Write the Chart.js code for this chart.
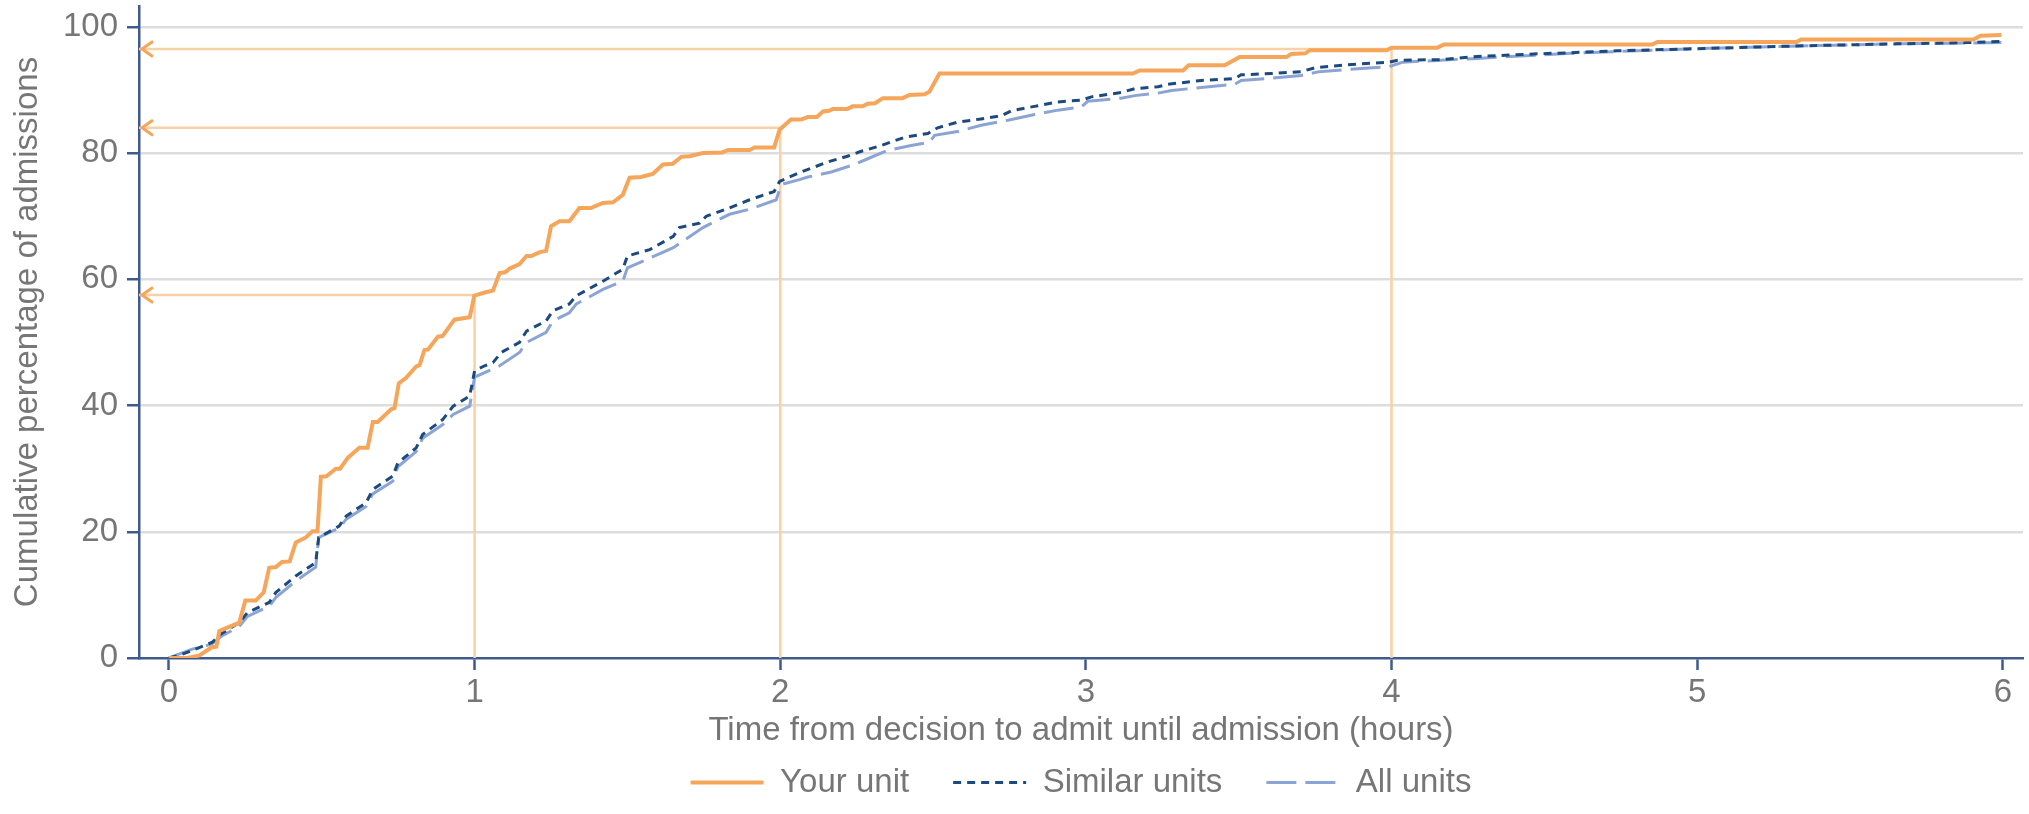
<!DOCTYPE html>
<html>
<head>
<meta charset="utf-8">
<script src="https://cdn.jsdelivr.net/npm/chart.js@4.4.1/dist/chart.umd.min.js"></script>
<style>
html,body{margin:0;padding:0;background:#ffffff;overflow:hidden}
#wrap{width:2029px;height:814px;position:relative}
</style>
</head>
<body>
<div id="wrap"><canvas id="c" width="2029" height="814"></canvas></div>
<script>
// ---------------- data ----------------
const seriesNames = ['Your unit', 'Similar units', 'All units'];

const yourHours = [0,0.06,0.1,0.14,0.155,0.165,0.23,0.25,0.284,0.31,0.328,0.35,0.37,0.395,0.415,0.448,0.47,0.486,0.497,0.515,0.546,0.56,0.585,0.623,0.65,0.667,0.683,0.727,0.738,0.752,0.776,0.809,0.82,0.836,0.848,0.88,0.895,0.934,0.984,0.999,1.033,1.06,1.082,1.1,1.115,1.147,1.17,1.186,1.213,1.234,1.25,1.278,1.31,1.343,1.38,1.42,1.453,1.485,1.507,1.545,1.583,1.616,1.648,1.676,1.703,1.747,1.81,1.83,1.9,1.916,1.98,1.998,2.035,2.068,2.09,2.12,2.14,2.16,2.172,2.22,2.237,2.27,2.286,2.31,2.336,2.4,2.423,2.472,2.488,2.521,3.154,3.176,3.318,3.336,3.454,3.503,3.656,3.672,3.718,3.733,3.984,4.0,4.15,4.172,4.853,4.87,5.325,5.34,5.904,5.927,5.995];
const yourPct   = [0,0,0.4,1.7,1.8,4.3,5.6,9.1,9.1,10.4,14.3,14.4,15.2,15.3,18.3,19.1,20.1,20.1,28.7,28.8,30.0,30.0,31.7,33.3,33.3,37.4,37.4,39.4,39.6,43.5,44.4,46.2,46.4,48.8,48.9,50.9,51.0,53.6,54.0,57.4,57.9,58.2,61.0,61.1,61.7,62.4,63.7,63.7,64.3,64.5,68.4,69.2,69.2,71.3,71.3,72.1,72.2,73.4,76.1,76.2,76.7,78.2,78.3,79.4,79.5,80.0,80.1,80.5,80.5,80.9,80.9,83.7,85.3,85.3,85.7,85.7,86.6,86.7,87.0,87.0,87.4,87.4,87.8,87.9,88.7,88.7,89.2,89.3,89.7,92.6,92.6,93.1,93.1,93.9,93.9,95.2,95.2,95.7,95.8,96.3,96.3,96.7,96.7,97.2,97.2,97.6,97.6,98.0,98.0,98.6,98.7];

const similarHours = [0,0.033,0.087,0.142,0.17,0.23,0.257,0.328,0.35,0.415,0.48,0.49,0.557,0.58,0.645,0.667,0.732,0.749,0.809,0.83,0.896,0.93,0.984,1.0,1.033,1.06,1.087,1.147,1.17,1.234,1.256,1.31,1.333,1.42,1.485,1.5,1.573,1.65,1.67,1.736,1.758,1.834,1.9,1.98,1.998,2.068,2.156,2.22,2.26,2.33,2.407,2.483,2.515,2.58,2.657,2.723,2.756,2.832,2.908,2.985,3.018,3.115,3.16,3.236,3.268,3.377,3.487,3.508,3.607,3.705,3.748,3.855,3.992,4.02,4.16,4.28,4.464,4.586,4.738,4.967,5.195,5.348,5.653,5.881,5.995];
const similarPct   = [0,0.4,1.4,2.5,3.8,5.6,7.2,8.8,10.4,13.0,15.1,19.1,20.9,22.5,24.6,26.7,28.8,30.9,33.3,35.4,37.8,39.9,41.5,45.5,46.3,46.8,48.4,50.0,51.8,53.4,55.0,56.1,57.4,59.7,61.6,63.7,64.7,66.8,68.2,68.9,70.0,71.3,72.6,73.9,75.5,77.0,78.6,79.5,80.2,81.2,82.5,83.1,84.0,84.9,85.4,85.9,86.7,87.4,88.1,88.4,88.9,89.6,90.2,90.5,90.9,91.5,91.8,92.4,92.6,92.9,93.5,94.0,94.4,94.7,94.8,95.3,95.7,95.9,96.2,96.5,96.8,97.0,97.3,97.5,97.7];

const allHours = [0,0.033,0.076,0.14,0.17,0.23,0.257,0.328,0.35,0.415,0.48,0.49,0.557,0.58,0.645,0.667,0.732,0.749,0.809,0.83,0.896,0.93,0.984,1.0,1.082,1.147,1.17,1.234,1.256,1.31,1.333,1.42,1.485,1.5,1.65,1.747,1.834,1.9,1.987,2.003,2.063,2.09,2.167,2.237,2.286,2.35,2.428,2.488,2.505,2.58,2.657,2.745,2.832,2.908,2.985,3.006,3.115,3.16,3.236,3.28,3.377,3.487,3.508,3.64,3.705,3.763,3.9,3.992,4.037,4.28,4.586,4.967,5.272,5.653,5.995];
const allPct   = [0,0.6,1.4,2.2,3.4,5.0,6.6,8.2,9.6,12.2,14.4,19.1,20.6,22.0,24.0,26.0,28.0,30.3,32.7,34.8,37.0,38.6,39.9,44.5,46.3,48.4,50.0,51.6,53.4,54.7,56.1,58.4,59.7,61.8,65.0,68.2,70.3,71.1,72.6,75.0,75.8,76.2,77.0,78.1,79.1,80.4,81.2,81.7,82.8,83.4,84.4,85.2,86.1,86.8,87.3,88.2,88.7,89.1,89.5,89.9,90.4,90.9,91.5,92.0,92.3,92.9,93.4,93.7,94.4,95.0,95.8,96.5,96.9,97.3,97.5];

// reference markers: proportion admitted within 1, 2 and 4 hours for "Your unit"
const refHours = [1, 2, 4];
const refPct   = [57.5, 84, 96.5];

const xTickValues = [0, 1, 2, 3, 4, 5, 6];
const yTickValues = [0, 20, 40, 60, 80, 100];

const xTitle = 'Time from decision to admit until admission (hours)';
const yTitle = 'Cumulative percentage of admissions';

// ---------------- styling ----------------
const X_MIN = -0.098, X_MAX = 6.066, Y_MIN = 0, Y_MAX = 103.3;
const C_ORANGE = '#F5A65B', C_DARK = '#1C4A7E', C_LIGHT = '#8BA4D4';
const C_REF = '#FBD0A6', C_AXIS = '#3E5A8E', C_GRID = '#DDDDDD', C_TEXT = '#767676';
const FONT = "'Liberation Sans', Arial, sans-serif";
const FS = 33;

const pts = (xs, ys) => xs.map((x, i) => ({x: x, y: ys[i]}));

const mainSets = [
  {label: seriesNames[0], data: pts(yourHours, yourPct), borderColor: C_ORANGE, borderWidth: 4, borderDash: []},
  {label: seriesNames[1], data: pts(similarHours, similarPct), borderColor: C_DARK, borderWidth: 3, borderDash: [8, 6]},
  {label: seriesNames[2], data: pts(allHours, allPct), borderColor: C_LIGHT, borderWidth: 3, borderDash: [30, 9]}
].map((d, i) => Object.assign(d, {
  type: 'line', backgroundColor: d.borderColor, fill: false, pointRadius: 0, pointHoverRadius: 0,
  tension: 0, borderCapStyle: 'butt', borderJoinStyle: 'miter', order: i + 1
}));

const refSets = refHours.map((h, i) => ({
  type: 'line', label: 'ref' + i,
  data: [{x: h, y: Y_MIN}, {x: h, y: refPct[i]}, {x: X_MIN, y: refPct[i]}],
  borderColor: C_REF, backgroundColor: C_REF, borderWidth: 2.5, pointRadius: 0, pointHoverRadius: 0,
  fill: false, tension: 0, order: 20
}));

const arrowPlugin = {
  id: 'refArrows',
  afterDatasetsDraw(chart) {
    const xs = chart.scales.x, ys = chart.scales.y, ctx = chart.ctx;
    ctx.save();
    ctx.strokeStyle = C_ORANGE;
    ctx.lineWidth = 3;
    ctx.lineJoin = 'miter';
    ctx.lineCap = 'round';
    refPct.forEach(v => {
      const px = xs.getPixelForValue(X_MIN) + 3;
      const py = ys.getPixelForValue(v);
      ctx.beginPath();
      ctx.moveTo(px + 10, py - 7);
      ctx.lineTo(px, py);
      ctx.lineTo(px + 10, py + 7);
      ctx.stroke();
    });
    ctx.restore();
  }
};

new Chart(document.getElementById('c'), {
  type: 'line',
  data: {datasets: mainSets.concat(refSets)},
  options: {
    responsive: false,
    animation: false,
    devicePixelRatio: 1,
    events: [],
    layout: {padding: {left: 0, right: 6, top: 6, bottom: 5}},
    plugins: {
      tooltip: {enabled: false},
      legend: {
        display: true,
        position: 'bottom',
        fullSize: false,
        labels: {
          usePointStyle: true,
          pointStyle: 'line',
          pointStyleWidth: 73,
          padding: 44,
          color: C_TEXT,
          font: {family: FONT, size: FS},
          generateLabels: chart => {
            const items = Chart.defaults.plugins.legend.labels.generateLabels(chart);
            return items.filter(it => it.datasetIndex < 3).map(it => {
              const ds = chart.data.datasets[it.datasetIndex];
              it.lineDash = ds.borderDash;
              it.lineWidth = ds.borderWidth;
              it.strokeStyle = ds.borderColor;
              it.fillStyle = ds.borderColor;
              it.pointStyle = 'line';
              it.lineCap = 'butt';
              return it;
            });
          }
        }
      }
    },
    scales: {
      x: {
        type: 'linear',
        min: X_MIN, max: X_MAX,
        afterBuildTicks: s => { s.ticks = xTickValues.map(v => ({value: v})); },
        afterFit: s => { s.height = 64; s.paddingLeft = 0; s.paddingRight = 0; },
        ticks: {color: C_TEXT, font: {family: FONT, size: FS}, padding: 3, callback: v => String(v), maxRotation: 0, autoSkip: false},
        grid: {drawOnChartArea: false, drawTicks: true, tickLength: 12, tickWidth: 2.5, tickColor: C_AXIS},
        border: {display: true, color: C_AXIS, width: 2.5},
        title: {display: true, text: xTitle, color: C_TEXT, font: {family: FONT, size: FS}, padding: {top: 0, bottom: -29}}
      },
      y: {
        type: 'linear',
        min: Y_MIN, max: Y_MAX,
        afterBuildTicks: s => { s.ticks = yTickValues.map(v => ({value: v})); },
        afterFit: s => { s.width = 139; s.paddingTop = 0; s.paddingBottom = 0; },
        ticks: {color: C_TEXT, font: {family: FONT, size: FS}, padding: 9, callback: v => String(v)},
        grid: {
          drawOnChartArea: true, drawTicks: true, tickLength: 12, tickWidth: 2.5, tickColor: C_AXIS,
          lineWidth: 2.5,
          color: c => (c.tick && c.tick.value === 0) ? 'rgba(0,0,0,0)' : C_GRID
        },
        border: {display: true, color: C_AXIS, width: 2.5},
        title: {display: true, text: yTitle, color: C_TEXT, font: {family: FONT, size: FS}, padding: {top: 8, bottom: 0}}
      }
    }
  },
  plugins: [arrowPlugin]
});
</script>
</body>
</html>
